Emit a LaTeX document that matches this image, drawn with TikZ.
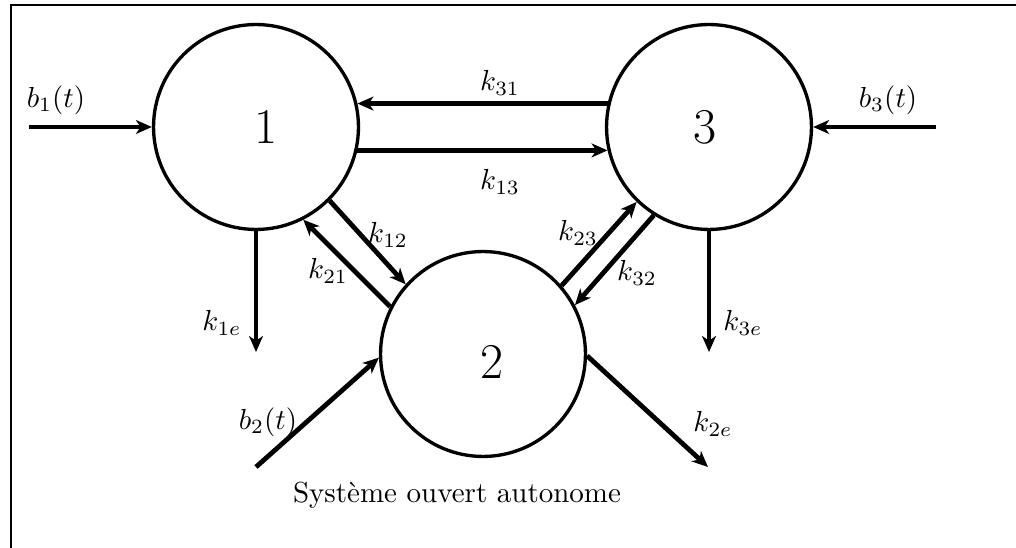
\documentclass[tikz,border=0pt]{standalone}
\usetikzlibrary{arrows.meta}
\begin{document}
\begin{tikzpicture}[x=0.345pt,y=-0.345pt,
  comp/.style={circle,draw,line width=1.15pt,minimum size=70.7pt,inner sep=0pt},
  flow/.style={line width=1.65pt,-{Stealth[length=5.5pt,width=4.8pt,inset=1.6pt]}},
  lab/.style={inner sep=0pt},
  num/.style={font=\LARGE,inner sep=0pt},
  frame/.style={line width=1pt}]
% compartments
\node[comp] (c1) at (256,127) {};
\node[comp] (c3) at (709,127) {};
\node[comp] (c2) at (483,354) {};
\node[num] (n1) at (266,127) {1};
\node[num] (n3) at (705,127) {3};
\node[num] (n2) at (492,362) {2};
% free ends
\coordinate (b1s) at (29,127);
\coordinate (b3s) at (936,127);
\coordinate (b2s) at (256,467);
\coordinate (k1ee) at (256,352);
\coordinate (k3ee) at (709,352);
\coordinate (k2ee) at (708,467);
% inputs
\draw[flow] (b1s) -- (c1.west);
\draw[flow] (b3s) -- (c3.east);
\draw[flow] (b2s) -- (c2.182);
% outputs
\draw[flow] (c1.south) -- (k1ee);
\draw[flow] (c3.south) -- (k3ee);
\draw[flow] (c2.-1) -- (k2ee);
% exchanges
\draw[flow] (c3.167) -- (c1.13);
\draw[flow] (c1.-13) -- (c3.193);
\draw[flow] (c1.-45) -- (c2.138);
\draw[flow] (c2.153) -- (c1.-63);
\draw[flow] (c2.41) -- (c3.226);
\draw[flow] (c3.238) -- (c2.28);
% labels
\node[lab] (lb1) at (56,100) {$b_1(t)$};
\node[lab] (lb3) at (888,100) {$b_3(t)$};
\node[lab] (lb2) at (268,422) {$b_2(t)$};
\node[lab] (l31) at (500,83) {$k_{31}$};
\node[lab] (l13) at (500,182) {$k_{13}$};
\node[lab] (l12) at (388,235) {$k_{12}$};
\node[lab] (l21) at (328,271) {$k_{21}$};
\node[lab] (l23) at (578,233) {$k_{23}$};
\node[lab] (l32) at (637,273) {$k_{32}$};
\node[lab] (l1e) at (222,323) {$k_{1e}$};
\node[lab] (l3e) at (743,323) {$k_{3e}$};
\node[lab] (l2e) at (713,424) {$k_{2e}$};
\node[lab] (title) at (457,495) {Système ouvert autonome};
% frame
\draw[frame] (1030,5) -- (11,5) -- (11,560);
\pgfresetboundingbox
\useasboundingbox (0,0) rectangle (1016,548);
\end{tikzpicture}
\end{document}
